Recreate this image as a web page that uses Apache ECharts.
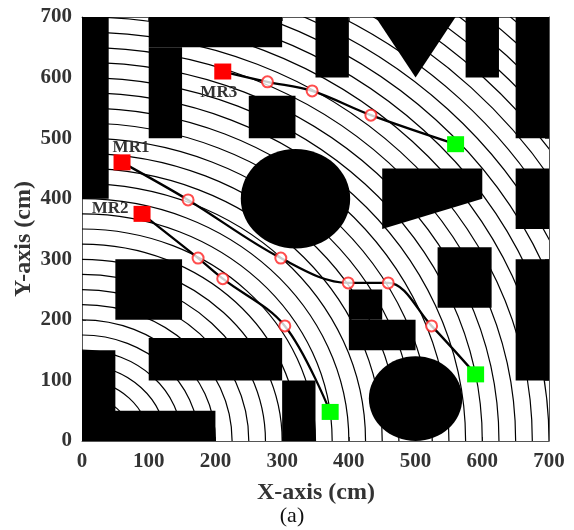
<!DOCTYPE html>
<html>
<head>
<meta charset="utf-8">
<script src="https://cdn.jsdelivr.net/npm/echarts@6/dist/echarts.min.js"></script>
<style>
html, body { margin: 0; padding: 0; background: #fff; }
#chart { width: 574px; height: 530px; }
</style>
</head>
<body>
<div id="chart"></div>
<script>
// Axis ticks (cm)
const xTicks = [0, 100, 200, 300, 400, 500, 600, 700];
const yTicks = [0, 100, 200, 300, 400, 500, 600, 700];

// Radii (cm) of the concentric potential contours around the origin
const contourRadii = [25, 50, 75, 100, 125, 150, 175, 200, 225, 250, 275, 300, 325, 350,
  375, 400, 425, 450, 475, 500, 525, 550, 575, 600, 625, 650, 675, 700, 725, 750, 775,
  800, 825, 850, 875, 900, 925, 950, 975];

// Rectangular obstacles: [x1, y1, x2, y2] (cm)
const rectObstacles = [
  [0, 400, 40, 700],
  [100, 650, 300, 700],
  [100, 500, 150, 650],
  [250, 500, 320, 570],
  [350, 600, 400, 700],
  [575, 600, 625, 700],
  [650, 500, 700, 700],
  [650, 350, 700, 450],
  [533, 220, 614, 320],
  [650, 100, 700, 300],
  [400, 150, 500, 200],
  [400, 200, 450, 250],
  [50, 200, 150, 300],
  [100, 100, 300, 170],
  [0, 0, 50, 150],
  [0, 0, 200, 50],
  [300, 0, 350, 100]
];

// Polygonal obstacles: vertex lists (cm)
const polyObstacles = [
  [[440, 700], [560, 700], [500, 600]],
  [[450, 450], [600, 450], [600, 400], [450, 350]]
];

// Circular obstacles: [cx, cy, r] (cm)
const circleObstacles = [
  [320, 400, 82],
  [500, 70, 70]
];

// Robot start, waypoints and goal (cm)
const mr1Start = [60, 460];
const mr1Waypoints = [[159, 398], [298, 302], [399, 261], [459, 261], [524, 190]];
const mr1Goal = [590, 110];

const mr2Start = [90, 375];
const mr2Waypoints = [[174, 302], [211, 268], [304, 190]];
const mr2Goal = [372, 48];

const mr3Start = [211, 610];
const mr3Waypoints = [[278, 593], [345, 578], [433, 538]];
const mr3Goal = [560, 490];

const robotNames = ['MR1', 'MR2', 'MR3'];

const serif = '"Liberation Serif", "Times New Roman", serif';
const chart = echarts.init(document.getElementById('chart'), null, { renderer: 'canvas' });

function clipRect(params) {
  const cs = params.coordSys;
  return { type: 'rect', shape: { x: cs.x, y: cs.y, width: cs.width, height: cs.height } };
}

const axisCommon = {
  type: 'value',
  min: xTicks[0],
  max: xTicks[xTicks.length - 1],
  interval: 100,
  axisLine: { show: true, onZero: false, lineStyle: { color: '#555', width: 1 } },
  axisTick: { show: true, inside: true, length: 4, lineStyle: { color: '#555' } },
  splitLine: { show: false }
};

const labelStyle = {
  fontFamily: serif, fontWeight: 'bold', fontSize: 21, color: '#333'
};

const startLabelOffsets = [[9, -15], [-32, -5], [-4, 21]];
const starts = [mr1Start, mr2Start, mr3Start];
const goals = [mr1Goal, mr2Goal, mr3Goal];
const waypoints = [].concat(mr1Waypoints, mr2Waypoints, mr3Waypoints);

function pathOf(s, w, g) { return [s].concat(w, [g]); }

const pathSeries = [
  pathOf(mr1Start, mr1Waypoints, mr1Goal),
  pathOf(mr2Start, mr2Waypoints, mr2Goal),
  pathOf(mr3Start, mr3Waypoints, mr3Goal)
].map(function (pts, i) {
  return {
    name: robotNames[i] + ' path',
    type: 'line',
    data: pts,
    smooth: 0.35,
    symbol: 'none',
    z: 4,
    lineStyle: { color: '#000', width: 2.3 },
    silent: true
  };
});

chart.setOption({
  animation: false,
  backgroundColor: '#fff',
  grid: { left: 82, top: 17, right: 25, bottom: 89, containLabel: false },
  xAxis: [
    Object.assign({}, axisCommon, {
      position: 'bottom',
      axisLabel: Object.assign({ margin: 10 }, labelStyle)
    }),
    Object.assign({}, axisCommon, {
      position: 'top',
      axisLabel: { show: false }
    })
  ],
  yAxis: [
    Object.assign({}, axisCommon, {
      min: yTicks[0], max: yTicks[yTicks.length - 1],
      position: 'left',
      axisLabel: Object.assign({ margin: 10 }, labelStyle)
    }),
    Object.assign({}, axisCommon, {
      min: yTicks[0], max: yTicks[yTicks.length - 1],
      position: 'right',
      axisLabel: { show: false }
    })
  ],
  graphic: [
    {
      type: 'text',
      x: 316, y: 493,
      style: { text: 'X-axis (cm)', font: 'bold 24px ' + serif, fill: '#333', align: 'center', verticalAlign: 'middle' }
    },
    {
      type: 'text',
      x: 24, y: 239, rotation: Math.PI / 2,
      style: { text: 'Y-axis (cm)', font: 'bold 24px ' + serif, fill: '#333', align: 'center', verticalAlign: 'middle' }
    },
    {
      type: 'text',
      x: 292, y: 516,
      style: { text: '(a)', font: '22px ' + serif, fill: '#111', align: 'center', verticalAlign: 'middle' }
    }
  ],
  series: [
    {
      name: 'contours',
      type: 'custom',
      silent: true,
      z: 1,
      encode: { x: 0, y: 1 },
      data: contourRadii.map(function (r) { return [0, 0, r]; }),
      renderItem: function (params, api) {
        const o = api.coord([api.value(0), api.value(1)]);
        const s = api.size([api.value(2), api.value(2)]);
        return {
          type: 'ellipse',
          shape: { cx: o[0], cy: o[1], rx: s[0], ry: s[1] },
          style: { fill: null, stroke: '#000', lineWidth: 1.2 },
          clipPath: clipRect(params)
        };
      }
    },
    {
      name: 'rect obstacles',
      type: 'custom',
      silent: true,
      z: 2,
      encode: { x: [0, 2], y: [1, 3] },
      data: rectObstacles,
      renderItem: function (params, api) {
        const p1 = api.coord([api.value(0), api.value(3)]);
        const p2 = api.coord([api.value(2), api.value(1)]);
        return {
          type: 'rect',
          shape: { x: p1[0], y: p1[1], width: p2[0] - p1[0], height: p2[1] - p1[1] },
          style: { fill: '#000' },
          clipPath: clipRect(params)
        };
      }
    },
    {
      name: 'polygon obstacles',
      type: 'custom',
      silent: true,
      z: 2,
      encode: { x: 0, y: 1 },
      data: polyObstacles.map(function (pts, i) { return [pts[0][0], pts[0][1], i]; }),
      renderItem: function (params, api) {
        const pts = polyObstacles[api.value(2)].map(function (p) { return api.coord(p); });
        return {
          type: 'polygon',
          shape: { points: pts },
          style: { fill: '#000' }
        };
      }
    },
    {
      name: 'circle obstacles',
      type: 'custom',
      silent: true,
      z: 2,
      encode: { x: 0, y: 1 },
      data: circleObstacles,
      renderItem: function (params, api) {
        const o = api.coord([api.value(0), api.value(1)]);
        const s = api.size([api.value(2), api.value(2)]);
        return {
          type: 'ellipse',
          shape: { cx: o[0], cy: o[1], rx: s[0], ry: s[1] },
          style: { fill: '#000' },
          clipPath: clipRect(params)
        };
      }
    }
  ].concat(pathSeries, [
    {
      name: 'waypoints',
      type: 'scatter',
      z: 5,
      silent: true,
      symbol: 'emptyCircle',
      symbolSize: 11,
      itemStyle: { color: '#ff2020', borderColor: '#ff2020', borderWidth: 1 },
      data: waypoints
    },
    {
      name: 'starts',
      type: 'scatter',
      z: 6,
      silent: true,
      symbol: 'rect',
      symbolSize: [17, 16],
      itemStyle: { color: '#ff0000', opacity: 1 },
      data: starts.map(function (p, i) {
        return {
          value: p,
          label: {
            show: true,
            formatter: robotNames[i],
            position: 'inside',
            offset: startLabelOffsets[i],
            fontFamily: serif, fontWeight: 'bold', fontSize: 17, color: '#333'
          }
        };
      })
    },
    {
      name: 'goals',
      type: 'scatter',
      z: 6,
      silent: true,
      symbol: 'rect',
      symbolSize: [17, 16],
      itemStyle: { color: '#00ff00', opacity: 1 },
      data: goals
    }
  ])
});
</script>
</body>
</html>
